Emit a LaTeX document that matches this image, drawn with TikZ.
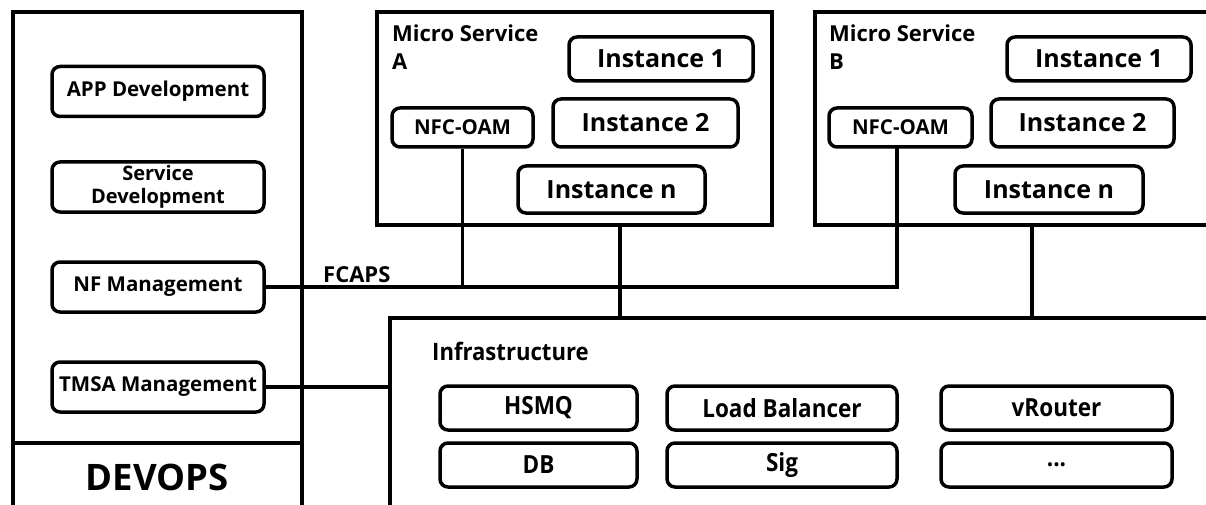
\documentclass[tikz,border=0pt]{standalone}
\usepackage{fontspec}
\setmainfont{Open Sans}
\newfontfamily\condbold[FakeStretch=0.92]{Open Sans Bold}
\newfontfamily\narrowbold[FakeStretch=0.9]{Open Sans Bold}
\begin{document}
\begin{tikzpicture}[x=1pt,y=-1pt,
  frame/.style={line width=4pt},
  box/.style={draw,line width=3.5pt,rounded corners=8pt,inner sep=0pt,align=center,font=\bfseries\fontsize{20.5}{22}\selectfont},
  inst/.style={box,font=\bfseries\fontsize{25}{28}\selectfont},
  nfc/.style={box,font=\bfseries\fontsize{20.5}{22}\selectfont},
  infbox/.style={box,font=\narrowbold\fontsize{25}{27}\selectfont},
  lbl/.style={inner sep=0pt,align=left,font=\bfseries\fontsize{22}{28}\selectfont},
  conn/.style={line width=3.5pt}]
\useasboundingbox (0,0) rectangle (1206,505);
% DEVOPS frame
\draw[frame] (13,510) -- (13,12) -- (302,12) -- (302,510);
\draw[frame] (13,443) -- (302,443);
\node[inner sep=0pt,font=\bfseries\fontsize{36.5}{40}\selectfont] (devops) at (157,477) {DEVOPS};
\node[box,minimum width=212pt,minimum height=50pt] (app) at (158,91.5) {APP Development};
\node[box,minimum width=212pt,minimum height=50pt,font=\bfseries\fontsize{20}{23}\selectfont] (svc) at (158,187) {Service\\Development};
\node[box,minimum width=212pt,minimum height=50pt] (nfm) at (158,287) {NF Management};
\node[box,minimum width=212pt,minimum height=50pt,font=\bfseries\fontsize{20.5}{22}\selectfont] (tmsa) at (158,387) {TMSA Management};
% Micro Service A
\node[draw,frame,minimum width=395pt,minimum height=213pt,inner sep=0pt] (msA) at (574.5,118.5) {};
\node[lbl,anchor=north west] (msAl) at (392,25) {Micro Service\\A};
\node[inst,minimum width=184pt,minimum height=44pt] (a1) at (661,59) {Instance 1};
\node[inst,minimum width=185pt,minimum height=48pt] (a2) at (645.5,123) {Instance 2};
\node[inst,minimum width=187pt,minimum height=47pt] (an) at (611.5,189.5) {Instance n};
\node[nfc,minimum width=141pt,minimum height=39pt] (oamA) at (462.5,127.5) {NFC-OAM};
% Micro Service B
\draw[frame] (1210,12) -- (815,12) -- (815,225) -- (1210,225);
\node[lbl,anchor=north west] (msBl) at (829,25) {Micro Service\\B};
\node[inst,minimum width=184pt,minimum height=44pt] (b1) at (1099,59) {Instance 1};
\node[inst,minimum width=183pt,minimum height=48pt] (b2) at (1082.5,123) {Instance 2};
\node[inst,minimum width=188pt,minimum height=47pt] (bn) at (1049,189.5) {Instance n};
\node[nfc,minimum width=143pt,minimum height=39pt] (oamB) at (900.5,127.5) {NFC-OAM};
% Infrastructure
\coordinate (infTL) at (390,318);
\draw[frame] (390,510) -- (infTL) -- (1210,318);
\node[inner sep=0pt,anchor=west,font=\condbold\fontsize{24}{26}\selectfont] (infl) at (432,351) {Infrastructure};
\node[infbox,minimum width=197pt,minimum height=44pt] (hsmq) at (538.5,408) {HSMQ};
\node[infbox,minimum width=197pt,minimum height=44pt] (db) at (538.5,465) {DB};
\node[infbox,minimum width=230pt,minimum height=44pt] (lb) at (782,408) {Load Balancer};
\node[infbox,minimum width=230pt,minimum height=44pt] (sig) at (782,465) {Sig};
\node[infbox,minimum width=231pt,minimum height=44pt] (vr) at (1056.5,408) {vRouter};
\node[infbox,minimum width=231pt,minimum height=44pt] (dots) at (1056.5,465) {...};
% connectors
\coordinate (oamBx) at (897,147);
\coordinate (anx) at (620,225);
\coordinate (bnx) at (1032,225);
\draw[conn] (nfm.east) -- (nfm.east -| oamBx) -- (oamBx);
\draw[conn] (oamA.south) -- (oamA.south |- nfm.east);
\draw[conn] (anx) -- (anx |- infTL);
\draw[conn] (bnx) -- (bnx |- infTL);
\draw[conn] (tmsa.east) -- (tmsa.east -| infTL);
\node[lbl,anchor=south west] (fcaps) at (323,283) {FCAPS};
\end{tikzpicture}
\end{document}
